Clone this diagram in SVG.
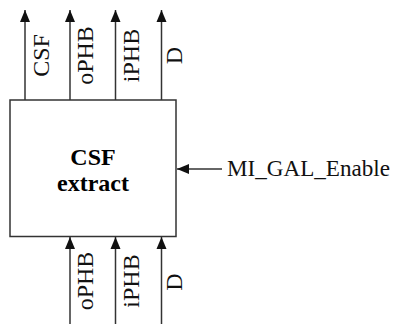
<svg xmlns="http://www.w3.org/2000/svg" width="398" height="324" viewBox="0 0 398 324">
<style>
.ln{stroke:#333;stroke-width:1.5;fill:none}
.lbl{font-family:"Liberation Serif","Times New Roman",serif;font-size:24px;fill:#111}
.bold{font-family:"Liberation Serif","Times New Roman",serif;font-size:24px;font-weight:bold;fill:#000}
</style>
<defs>
<marker id="ah" markerUnits="userSpaceOnUse" markerWidth="12" markerHeight="12" viewBox="0 0 12 10" refX="12" refY="5" orient="auto">
<path d="M0,0 L12,5 L0,10 Z" fill="#111"/>
</marker>
</defs>
<g id="block">
<rect x="10" y="100" width="166" height="136.5" fill="#fff" stroke="#333" stroke-width="1.5"/>
<text class="bold" x="93" y="165" text-anchor="middle">CSF</text>
<text class="bold" x="93" y="191" text-anchor="middle">extract</text>
</g>
<g id="connectors">
<line class="ln" x1="25" y1="100" x2="25" y2="10" marker-end="url(#ah)"/>
<line class="ln" x1="70" y1="100" x2="70" y2="10" marker-end="url(#ah)"/>
<line class="ln" x1="115.5" y1="100" x2="115.5" y2="10" marker-end="url(#ah)"/>
<line class="ln" x1="161.5" y1="100" x2="161.5" y2="10" marker-end="url(#ah)"/>
<line class="ln" x1="70" y1="324" x2="70" y2="237" marker-end="url(#ah)"/>
<line class="ln" x1="115.5" y1="324" x2="115.5" y2="237" marker-end="url(#ah)"/>
<line class="ln" x1="161.5" y1="324" x2="161.5" y2="237" marker-end="url(#ah)"/>
<line class="ln" x1="222" y1="169" x2="177" y2="169" marker-end="url(#ah)"/>
</g>
<g id="labels">
<text class="lbl" transform="translate(48.5,55.5) rotate(-90)" text-anchor="middle">CSF</text>
<text class="lbl" transform="translate(93,55.5) rotate(-90)" text-anchor="middle">oPHB</text>
<text class="lbl" transform="translate(138.5,55.5) rotate(-90)" text-anchor="middle">iPHB</text>
<text class="lbl" transform="translate(182,55.5) rotate(-90)" text-anchor="middle">D</text>
<text class="lbl" transform="translate(93,281) rotate(-90)" text-anchor="middle">oPHB</text>
<text class="lbl" transform="translate(138.5,281) rotate(-90)" text-anchor="middle">iPHB</text>
<text class="lbl" transform="translate(182,282) rotate(-90)" text-anchor="middle">D</text>
<text class="lbl" x="227" y="176" textLength="163" lengthAdjust="spacingAndGlyphs">MI_GAL_Enable</text>
</g>
</svg>
